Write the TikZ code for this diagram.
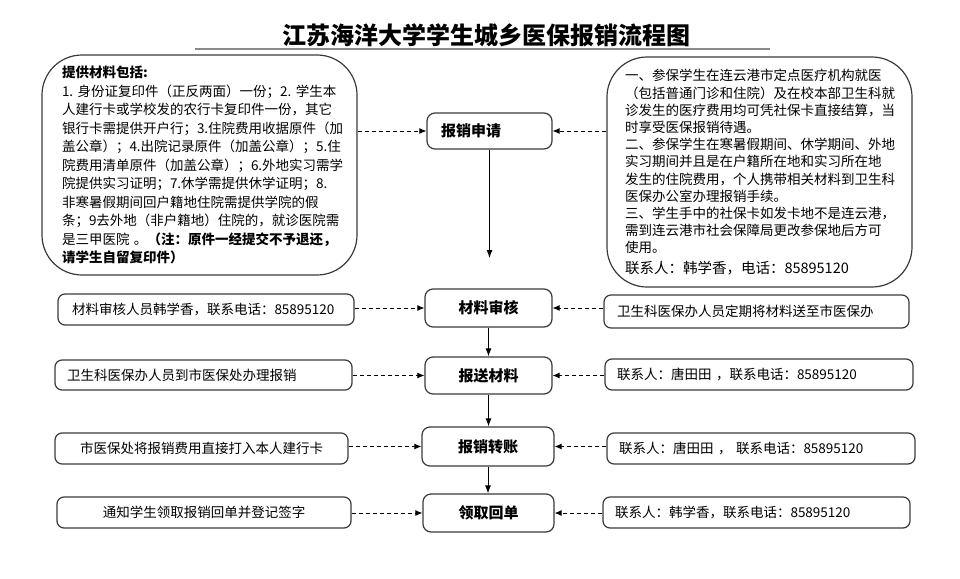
\documentclass[tikz,border=0pt]{standalone}
\usepackage{fontspec}
\setmainfont{Noto Sans CJK SC}
\usetikzlibrary{arrows.meta}
\definecolor{edge}{HTML}{3A3A3A}
\definecolor{rulegray}{HTML}{8A8A8A}
\begin{document}
\begin{tikzpicture}[x=1pt,y=-1pt,
  box/.style={draw=edge,line width=1.2pt},
  bigbox/.style={box,rounded corners=40pt,inner ysep=0pt,align=left},
  sidebox/.style={box,rounded corners=7pt,inner ysep=0pt,minimum height=31pt,font=\fontsize{13.5}{16}\selectfont},
  stepbox/.style={box,rounded corners=8pt,inner ysep=0pt,font=\fontsize{15}{18}\selectfont\bfseries},
  dasharrow/.style={draw=black,line width=0.9pt,dash pattern=on 4pt off 3pt,-{Latex[length=7pt,width=6pt]}},
  solidarrow/.style={draw=black,line width=0.9pt,-{Latex[length=8pt,width=6pt]}}]
\useasboundingbox (0,0) rectangle (960,578);

% title
\node[font=\fontsize{24}{28}\selectfont\bfseries] (title) at (486,35) {江苏海洋大学学生城乡医保报销流程图};
\draw[rulegray,line width=2pt] (195,49) -- (770,49);

% big boxes
\node[bigbox,inner xsep=20pt,text width=275pt,minimum height=220pt,font=\fontsize{13.5}{18.5}\selectfont] (Lbig) at (199.5,165) {%
{\bfseries 提供材料包括:}\\
1.~身份证复印件（正反两面）一份；2.~学生本\\
人建行卡或学校发的农行卡复印件一份，其它\\
银行卡需提供开户行；3.住院费用收据原件（加\\
盖公章）；4.出院记录原件（加盖公章）；5.住\\
院费用清单原件（加盖公章）；6.外地实习需学\\
院提供实习证明；7.休学需提供休学证明；8.\\
非寒暑假期间回户籍地住院需提供学院的假\\
条；9去外地（非户籍地）住院的，就诊医院需\\
是三甲医院~。{\bfseries（注：原件一经提交不予退还，}\\
{\bfseries 请学生自留复印件）}};

\node[bigbox,inner xsep=18pt,text width=269pt,minimum height=230pt,font=\fontsize{13.5}{17.2}\selectfont] (Rbig) at (759.5,172) {%
一、参保学生在连云港市定点医疗机构就医\\
（包括普通门诊和住院）及在校本部卫生科就\\
诊发生的医疗费用均可凭社保卡直接结算，当\\
时享受医保报销待遇。\\
二、参保学生在寒暑假期间、休学期间、外地\\
实习期间并且是在户籍所在地和实习所在地\\
发生的住院费用，个人携带相关材料到卫生科\\
医保办公室办理报销手续。\\
三、学生手中的社保卡如发卡地不是连云港，\\
需到连云港市社会保障局更改参保地后方可\\
使用。\\[3pt]
{\fontsize{14.5}{17.2}\selectfont 联系人：韩学香，电话：85895120}};

% step boxes
\node[stepbox,inner xsep=14pt,text width=97pt,align=left,minimum height=36pt] (apply) at (489.5,131) {报销申请};
\node[stepbox,minimum width=127pt,minimum height=38pt] (audit) at (488.5,308) {材料审核};
\node[stepbox,minimum width=127pt,minimum height=37pt] (submit) at (488.5,375.5) {报送材料};
\node[stepbox,minimum width=132pt,minimum height=39pt] (transfer) at (488,446.5) {报销转账};
\node[stepbox,minimum width=131pt,minimum height=38pt] (receipt) at (488.5,513) {领取回单};

% left side boxes
\node[sidebox,inner xsep=14pt,text width=268pt,align=left] (L1) at (206,309.5) {材料审核人员韩学香，联系电话：85895120};
\node[sidebox,inner xsep=12pt,text width=273pt,align=left,minimum height=30pt] (L2) at (203.5,375) {卫生科医保办人员到市医保处办理报销};
\node[sidebox,minimum width=293pt] (L3) at (201.5,448.5) {市医保处将报销费用直接打入本人建行卡};
\node[sidebox,minimum width=294pt] (L4) at (204,512.5) {通知学生领取报销回单并登记签字};

% right side boxes
\node[sidebox,inner xsep=13pt,text width=279pt,align=left,minimum height=33pt] (R1) at (756.5,311.5) {卫生科医保办人员定期将材料送至市医保办};
\node[sidebox,inner xsep=12pt,text width=284pt,align=left] (R2) at (759,374.5) {联系人：唐田田~，联系电话：85895120};
\node[sidebox,inner xsep=12pt,text width=284pt,align=left] (R3) at (761,448.5) {联系人：唐田田~，~联系电话：85895120};
\node[sidebox,inner xsep=12pt,text width=283pt,align=left] (R4) at (756.5,512.5) {联系人：韩学香，联系电话：85895120};

% dashed connectors
\draw[dasharrow] (Lbig.east |- apply.west) -- (apply.west);
\draw[dasharrow] (Rbig.west |- apply.east) -- (apply.east);
\draw[dasharrow] (L1.east |- audit.west) -- (audit.west);
\draw[dasharrow] (R1.west |- audit.east) -- (audit.east);
\draw[dasharrow] (L2.east |- submit.west) -- (submit.west);
\draw[dasharrow] (R2.west |- submit.east) -- (submit.east);
\draw[dasharrow] (L3.east |- transfer.west) -- (transfer.west);
\draw[dasharrow] (R3.west |- transfer.east) -- (transfer.east);
\draw[dasharrow] (L4.east |- receipt.west) -- (receipt.west);
\draw[dasharrow] (R4.west |- receipt.east) -- (receipt.east);

% solid flow
\coordinate (ylevel) at (0,258);
\coordinate (gapend) at (apply.south |- ylevel);
\draw[solidarrow] (apply.south) -- (gapend);
\draw[solidarrow] (audit.south) -- (audit.south |- submit.north);
\draw[solidarrow] (submit.south) -- (submit.south |- transfer.north);
\draw[solidarrow] (transfer.south) -- (transfer.south |- receipt.north);
\end{tikzpicture}
\end{document}
